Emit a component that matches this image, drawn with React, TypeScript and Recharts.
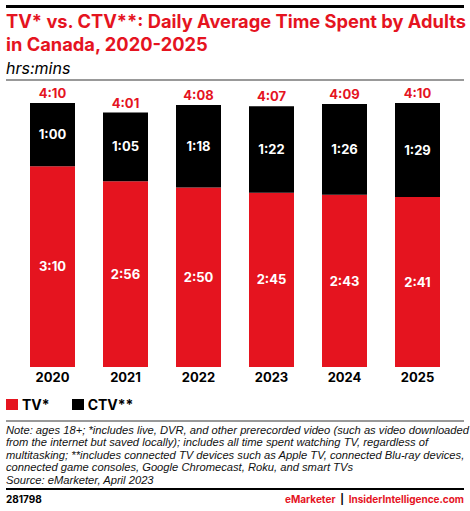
import React from 'react';
import { BarChart, Bar, XAxis, YAxis, LabelList } from 'recharts';

// minutes per day
const years = ['2020', '2021', '2022', '2023', '2024', '2025'];
const tvMinutes = [190, 176, 170, 165, 163, 161];
const ctvMinutes = [60, 65, 78, 82, 86, 89];

const noteLines = [
    'Note: ages 18+; *includes live, DVR, and other prerecorded video (such as video downloaded',
    'from the internet but saved locally); includes all time spent watching TV, regardless of',
    'multitasking; **includes connected TV devices such as Apple TV, connected Blu-ray devices,',
    'connected game consoles, Google Chromecast, Roku, and smart TVs',
    'Source: eMarketer, April 2023',
];

const RED = '#e5141f';
const FONT = 'Inter, "Noto Sans", Roboto, sans-serif';

if (typeof document !== 'undefined') document.body.style.margin = '0';

const fmt = (m: number) => `${Math.floor(m / 60)}:${String(m % 60).padStart(2, '0')}`;

const data = years.map((y, i) => ({
    year: y,
    tv: tvMinutes[i],
    ctv: ctvMinutes[i],
    total: tvMinutes[i] + ctvMinutes[i],
}));

const YearTick = (props: any) => {
    const { x, payload } = props;
    return (
        <text x={x} y={367 + 15} textAnchor="middle" fontFamily={FONT} fontSize={13} fontWeight={700} fill="#000">
            {payload.value}
        </text>
    );
};

const TotalLabel = (props: any) => {
    const { x, y, width, index } = props;
    return (
        <text x={x + width / 2} y={y - 5} textAnchor="middle" fontFamily={FONT} fontSize={13} fontWeight={700} fill={RED}>
            {fmt(data[index].total)}
        </text>
    );
};

export default function App() {
    return (
        <div style={{ position: 'relative', width: 470, height: 511, background: '#fff', fontFamily: FONT, overflow: 'hidden' }}>
            <div style={{ position: 'absolute', left: 6, top: 5, width: 458, height: 3, background: '#000' }} />
            <div style={{ position: 'absolute', left: 6, top: 10, color: RED, fontSize: 18.3, fontWeight: 700, lineHeight: '23px', whiteSpace: 'nowrap' }}>
                TV* vs. CTV**: Daily Average Time Spent by Adults<br />in Canada, 2020-2025
            </div>
            <div style={{ position: 'absolute', left: 6, top: 58, fontSize: 16, fontStyle: 'italic', color: '#000' }}>hrs:mins</div>
            <div style={{ position: 'absolute', left: 6, top: 79, width: 458, height: 2, background: '#999' }} />

            <div style={{ position: 'absolute', left: 0, top: 0 }}>
                <BarChart width={470} height={390} data={data} margin={{ top: 103, right: 16, bottom: 3, left: 16 }} barCategoryGap={14}>
                    <XAxis dataKey="year" axisLine={false} tickLine={false} height={20} tick={<YearTick />} interval={0} />
                    <YAxis hide domain={[0, 250]} />
                    <Bar dataKey="tv" stackId="a" fill={RED} isAnimationActive={false}>
                        <LabelList dataKey="tv" position="center" formatter={(v: any) => fmt(Number(v))} fill="#fff" fontFamily={FONT} fontSize={13} fontWeight={700} />
                    </Bar>
                    <Bar dataKey="ctv" stackId="a" fill="#000" isAnimationActive={false}>
                        <LabelList dataKey="ctv" position="center" formatter={(v: any) => fmt(Number(v))} fill="#fff" fontFamily={FONT} fontSize={13} fontWeight={700} />
                        <LabelList dataKey="total" content={<TotalLabel />} />
                    </Bar>
                </BarChart>
            </div>

            <div style={{ position: 'absolute', left: 6, top: 396, display: 'flex', alignItems: 'center', fontSize: 14, fontWeight: 700 }}>
                <span style={{ width: 12, height: 11, background: RED, display: 'inline-block', marginRight: 4 }} />
                <span style={{ marginRight: 22 }}>TV*</span>
                <span style={{ width: 12, height: 11, background: '#000', display: 'inline-block', marginRight: 4 }} />
                <span>CTV**</span>
            </div>
            <div style={{ position: 'absolute', left: 6, top: 420, width: 458, height: 2, background: '#999' }} />
            <div style={{ position: 'absolute', left: 6, top: 424, fontFamily: '"Liberation Sans", Arial, sans-serif', fontSize: 11.2, fontStyle: 'italic', lineHeight: '12.4px', color: '#111', whiteSpace: 'nowrap' }}>
                {noteLines.map((l, i) => <div key={i}>{l}</div>)}
            </div>
            <div style={{ position: 'absolute', left: 6, top: 488, width: 458, height: 2, background: '#000' }} />
            <div style={{ position: 'absolute', left: 6, top: 493, fontSize: 10, fontWeight: 700 }}>281798</div>
            <div style={{ position: 'absolute', right: 6, top: 493, fontSize: 10, fontWeight: 700 }}>
                <span style={{ color: RED }}>eMarketer</span>
                <span style={{ color: '#000' }}> &nbsp;|&nbsp; </span>
                <span style={{ color: RED }}>InsiderIntelligence.com</span>
            </div>
        </div>
    );
}
